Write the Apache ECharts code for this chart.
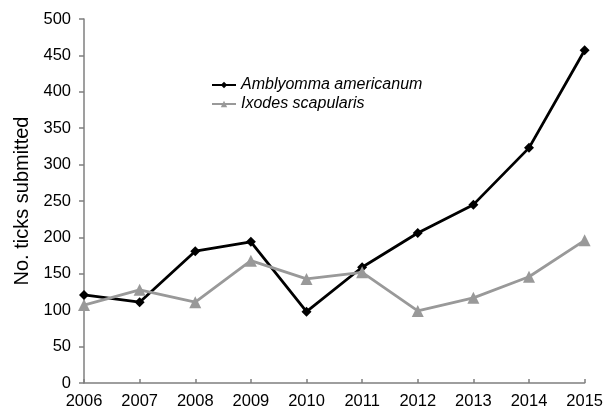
<!DOCTYPE html>
<html><head><meta charset="utf-8">
<script src="https://cdn.jsdelivr.net/npm/echarts@6/dist/echarts.min.js"></script>
<style>html,body{margin:0;padding:0;background:#fff}#c{width:606px;height:411px}</style>
</head><body><div id="c"></div>
<script>
var years = ['2006','2007','2008','2009','2010','2011','2012','2013','2014','2015'];
var amblyomma = [121, 111, 181, 194, 98, 159, 206, 245, 323, 457];
var ixodes = [107, 128, 111, 168, 143, 152, 99, 117, 146, 196];
var yTicks = [0, 50, 100, 150, 200, 250, 300, 350, 400, 450, 500];

var chart = echarts.init(document.getElementById('c'));
var font = 'Liberation Sans, Arial, sans-serif';
chart.setOption({
  animation: false,
  grid: {left: 84, right: 20, top: 19, bottom: 28},
  legend: {
    left: 206, top: 72, orient: 'vertical', itemGap: 3, itemWidth: 24, itemHeight: 8,
    textStyle: {fontFamily: font, fontSize: 16, fontStyle: 'italic', color: '#000'},
    data: ['Amblyomma americanum', 'Ixodes scapularis']
  },
  xAxis: {
    type: 'category', data: years, boundaryGap: false,
    axisLine: {lineStyle: {color: '#7f7f7f', width: 1.5}},
    axisTick: {inside: true, length: 4, lineStyle: {color: '#7f7f7f', width: 1.5}},
    axisLabel: {color: '#000', fontFamily: font, fontSize: 16.5, margin: 10}
  },
  yAxis: {
    type: 'value', min: 0, max: 500, interval: 50,
    name: 'No. ticks submitted', nameLocation: 'middle', nameGap: 50,
    nameTextStyle: {fontFamily: font, fontSize: 20, color: '#000'},
    splitLine: {show: false},
    axisLine: {show: true, lineStyle: {color: '#7f7f7f', width: 1.5}},
    axisTick: {show: true, length: 5, lineStyle: {color: '#7f7f7f', width: 1.5}},
    axisLabel: {color: '#000', fontFamily: font, fontSize: 16.5, margin: 13,
      formatter: function(v){ return yTicks.indexOf(v) >= 0 ? String(v) : ''; }}
  },
  series: [
    {name: 'Amblyomma americanum', type: 'line', data: amblyomma,
     symbol: 'diamond', symbolSize: 10,
     lineStyle: {color: '#000', width: 2.8}, itemStyle: {color: '#000'}},
    {name: 'Ixodes scapularis', type: 'line', data: ixodes,
     symbol: 'triangle', symbolSize: 12,
     lineStyle: {color: '#999', width: 2.8}, itemStyle: {color: '#999'}}
  ]
});
</script></body></html>
